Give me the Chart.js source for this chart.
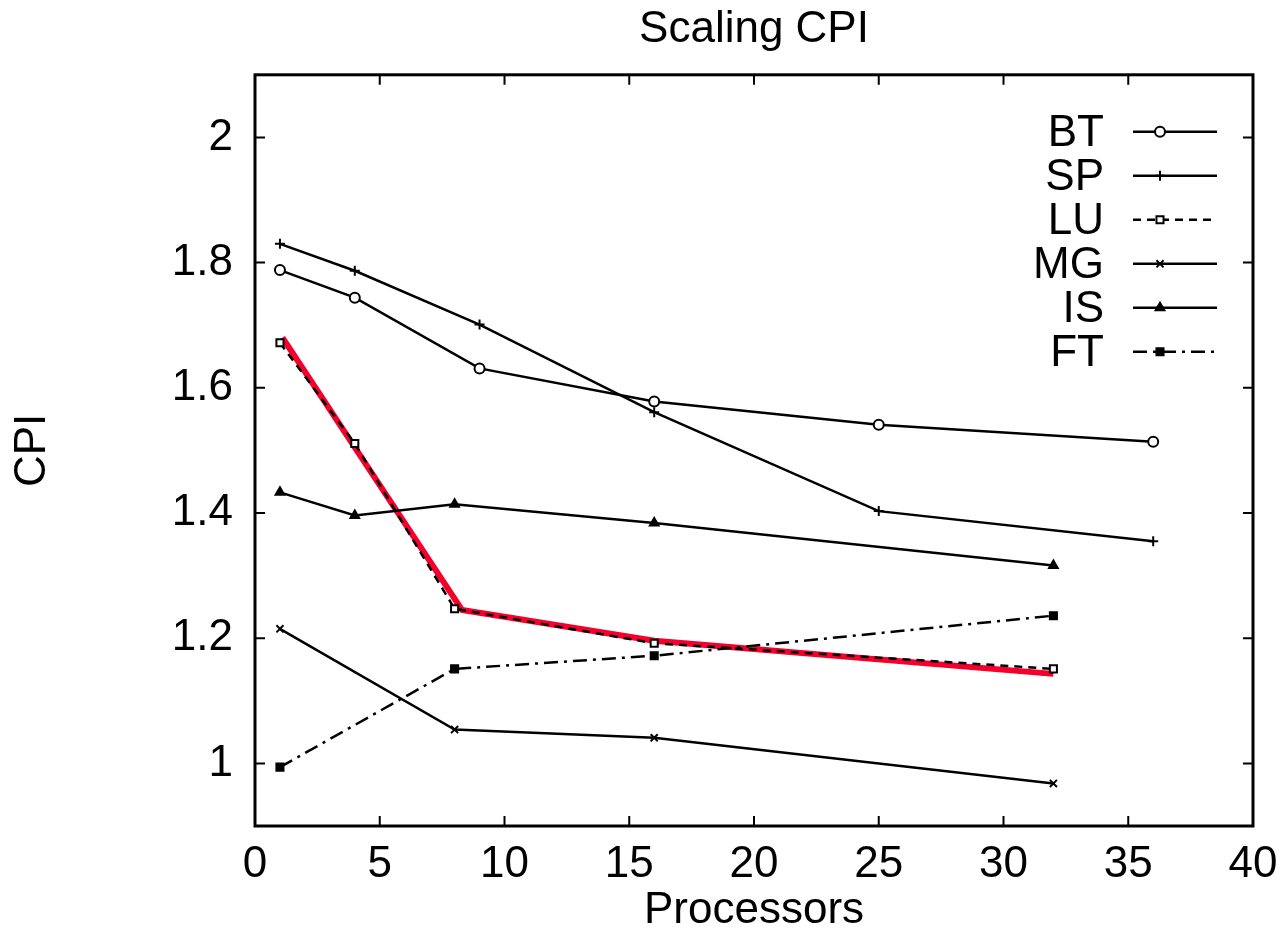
<!DOCTYPE html>
<html>
<head>
<meta charset="utf-8">
<script src="https://cdn.jsdelivr.net/npm/chart.js@4.4.1/dist/chart.umd.min.js"></script>
<style>
    html, body { margin: 0; padding: 0; background: #fff; }
</style>
</head>
<body>
<canvas id="CpiChart" width="1285" height="937"></canvas>
<script>
// processor counts per benchmark
const procs_BT = [1, 4, 9, 16, 25, 36];
const procs_SP = [1, 4, 9, 16, 25, 36];
const procs_LU = [1, 4, 8, 16, 32];
const procs_MG = [1, 8, 16, 32];
const procs_IS = [1, 4, 8, 16, 32];
const procs_FT = [1, 8, 16, 32];

// CPI values
const cpi_BT = [1.788, 1.744, 1.631, 1.578, 1.541, 1.514];
const cpi_SP = [1.830, 1.787, 1.701, 1.561, 1.403, 1.355];
const cpi_LU = [1.672, 1.511, 1.247, 1.192, 1.151];
const cpi_MG = [1.215, 1.054, 1.041, 0.968];
const cpi_IS = [1.433, 1.396, 1.414, 1.384, 1.316];
const cpi_FT = [0.994, 1.151, 1.172, 1.236];

// red overlay line (no legend entry)
const procs_red = [1.1, 8.3, 16, 32];
const cpi_red = [1.68, 1.245, 1.196, 1.143];

const xTickValues = [0, 5, 10, 15, 20, 25, 30, 35, 40];
const yTickValues = [1, 1.2, 1.4, 1.6, 1.8, 2];
const yTickLabels = ['1', '1.2', '1.4', '1.6', '1.8', '2'];

const FONT = "'Liberation Sans', Arial, sans-serif";
const FONT_SIZE = 44;

function toPoints(xs, ys) {
    return xs.map((x, i) => ({ x: x, y: ys[i] }));
}

function series(label, xs, ys, style, filled, dash) {
    return {
        label: label,
        data: toPoints(xs, ys),
        borderColor: '#000',
        borderWidth: 2.5,
        borderDash: dash || [],
        pointStyle: style,
        pointRadius: 5,
        pointBorderWidth: 2,
        pointBorderColor: '#000',
        pointBackgroundColor: filled ? '#000' : '#fff',
        tension: 0,
        fill: false
    };
}

const data_Cpi = {
    datasets: [
        series('BT', procs_BT, cpi_BT, 'circle', false),
        series('SP', procs_SP, cpi_SP, 'cross', false),
        series('LU', procs_LU, cpi_LU, 'rect', false, [8, 6]),
        series('MG', procs_MG, cpi_MG, 'crossRot', false),
        series('IS', procs_IS, cpi_IS, 'triangle', true),
        series('FT', procs_FT, cpi_FT, 'rect', true, [14, 6, 3, 6]),
        {
            label: '',
            data: toPoints(procs_red, cpi_red),
            borderColor: '#f5002d',
            borderWidth: 6,
            pointRadius: 0,
            tension: 0,
            fill: false
        }
    ]
};

// frame around the plot with inward ticks on all four sides
const frameTicks = {
    id: 'frameTicks',
    afterDatasetsDraw(chart) {
        const { ctx, chartArea: a, scales } = chart;
        const len = 10;
        ctx.save();
        ctx.strokeStyle = '#000';
        ctx.lineWidth = 2;
        ctx.beginPath();
        xTickValues.forEach(v => {
            const px = scales.x.getPixelForValue(v);
            ctx.moveTo(px, a.bottom); ctx.lineTo(px, a.bottom - len);
            ctx.moveTo(px, a.top); ctx.lineTo(px, a.top + len);
        });
        yTickValues.forEach(v => {
            const py = scales.y.getPixelForValue(v);
            ctx.moveTo(a.left, py); ctx.lineTo(a.left + len, py);
            ctx.moveTo(a.right, py); ctx.lineTo(a.right - len, py);
        });
        ctx.stroke();
        ctx.lineWidth = 3;
        ctx.strokeRect(a.left, a.top, a.right - a.left, a.bottom - a.top);
        ctx.restore();
    }
};

// gnuplot style key: label right aligned, then line sample with marker
const keyLegend = {
    id: 'keyLegend',
    afterDraw(chart) {
        const { ctx, chartArea: a } = chart;
        const textRight = a.right - 149;
        const lineLeft = a.right - 120;
        const lineRight = a.right - 36;
        let y = a.top + 57;
        ctx.save();
        chart.data.datasets.forEach(ds => {
            if (!ds.label) return;
            ctx.font = FONT_SIZE + 'px ' + FONT;
            ctx.fillStyle = '#000';
            ctx.textAlign = 'right';
            ctx.textBaseline = 'middle';
            ctx.fillText(ds.label, textRight, y + 2);
            ctx.strokeStyle = '#000';
            ctx.lineWidth = 2.5;
            ctx.setLineDash(ds.borderDash || []);
            ctx.beginPath();
            ctx.moveTo(lineLeft, y);
            ctx.lineTo(lineRight, y);
            ctx.stroke();
            ctx.setLineDash([]);
            if (Chart.helpers && Chart.helpers.drawPoint) {
                ctx.fillStyle = ds.pointBackgroundColor;
                ctx.strokeStyle = ds.pointBorderColor;
                ctx.lineWidth = ds.pointBorderWidth;
                Chart.helpers.drawPoint(ctx, {
                    pointStyle: ds.pointStyle,
                    radius: ds.pointRadius,
                    borderWidth: ds.pointBorderWidth,
                    rotation: 0
                }, lineLeft + 27, y);
            }
            y += 44;
        });
        ctx.restore();
    }
};

const config_Cpi = {
    type: 'line',
    data: data_Cpi,
    plugins: [frameTicks, keyLegend],
    options: {
        responsive: false,
        animation: false,
        layout: { padding: { left: 0, right: 32, top: 0, bottom: 0 } },
        scales: {
            x: {
                type: 'linear',
                min: 0,
                max: 40,
                afterFit: (scale) => {
                    scale.height = 111;
                    scale.paddingLeft = 0;
                    scale.paddingRight = 0;
                },
                afterBuildTicks: (scale) => { scale.ticks = xTickValues.map(v => ({ value: v })); },
                grid: { display: false, drawTicks: false },
                border: { display: false },
                ticks: {
                    color: '#000',
                    padding: 12,
                    maxRotation: 0,
                    font: { family: FONT, size: FONT_SIZE }
                },
                title: {
                    display: true,
                    text: 'Processors',
                    color: '#000',
                    padding: { top: 0, bottom: 0 },
                    font: { family: FONT, size: FONT_SIZE }
                }
            },
            y: {
                min: 0.9,
                max: 2.1,
                afterFit: (scale) => {
                    scale.width = 255;
                    scale.paddingTop = 0;
                    scale.paddingBottom = 0;
                },
                afterBuildTicks: (scale) => { scale.ticks = yTickValues.map(v => ({ value: v })); },
                grid: { display: false, drawTicks: false },
                border: { display: false },
                ticks: {
                    color: '#000',
                    padding: 22,
                    font: { family: FONT, size: FONT_SIZE },
                    callback: (value, i) => yTickLabels[i]
                },
                title: {
                    display: true,
                    text: 'CPI',
                    color: '#000',
                    padding: { top: 6, bottom: 0 },
                    font: { family: FONT, size: FONT_SIZE }
                }
            }
        },
        plugins: {
            legend: { display: false },
            tooltip: { enabled: false },
            title: {
                display: true,
                fullSize: false,
                text: 'Scaling CPI',
                color: '#000',
                padding: { top: 3, bottom: 19 },
                font: { family: FONT, size: FONT_SIZE, weight: 'normal' }
            }
        }
    }
};

const myChart_Cpi = new Chart(
    document.getElementById('CpiChart'),
    config_Cpi
);
</script>
</body>
</html>
